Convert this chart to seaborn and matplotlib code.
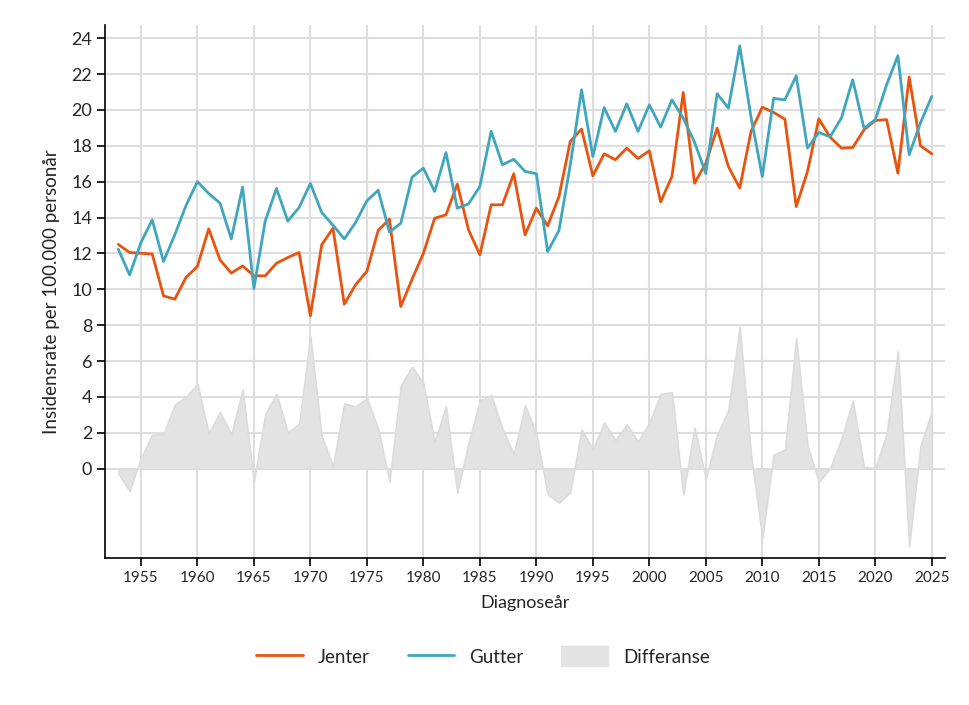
import numpy as np
import pandas as pd
import matplotlib
matplotlib.use("Agg")
import matplotlib.pyplot as plt
import seaborn as sns
from matplotlib.patches import Patch
from matplotlib.lines import Line2D

years = list(range(1953, 2026))

jenter = [12.5, 12.05, 12.01, 11.97, 9.63, 9.45, 10.67, 11.27, 13.37, 11.64,
          10.9, 11.3, 10.75, 10.75, 11.45, 11.77, 12.05, 8.52, 12.48, 13.4,
          9.17, 10.25, 11.0, 13.28, 13.91, 9.04, 10.56, 12.0, 13.96, 14.15,
          15.86, 13.31, 11.92, 14.71, 14.71, 16.44, 13.03, 14.52, 13.54, 15.17,
          18.24, 18.93, 16.32, 17.55, 17.22, 17.87, 17.29, 17.72, 14.87, 16.29,
          20.97, 15.91, 17.03, 18.98, 16.84, 15.64, 18.8, 20.15, 19.86, 19.48,
          14.61, 16.57, 19.5, 18.48, 17.87, 17.9, 18.89, 19.41, 19.46, 16.47,
          21.83, 18.0, 17.55]

gutter = [12.23, 10.8, 12.6, 13.87, 11.55, 13.04, 14.68, 16.0, 15.34, 14.8,
          12.81, 15.7, 10.04, 13.8, 15.62, 13.8, 14.56, 15.9, 14.28, 13.57,
          12.81, 13.72, 14.93, 15.52, 13.19, 13.68, 16.25, 16.75, 15.45, 17.62,
          14.52, 14.76, 15.73, 18.81, 16.94, 17.25, 16.57, 16.44, 12.1, 13.28,
          16.92, 21.12, 17.4, 20.13, 18.8, 20.34, 18.8, 20.28, 19.04, 20.56,
          19.54, 18.2, 16.45, 20.9, 20.1, 23.57, 19.6, 16.29, 20.64, 20.56,
          21.9, 17.87, 18.74, 18.5, 19.55, 21.68, 18.98, 19.45, 21.4, 23.02,
          17.5, 19.28, 20.75]

y_ticks = list(range(0, 25, 2))
x_ticks = list(range(1955, 2026, 5))

orange = "#e8540f"
teal = "#40a6bd"
fill_grey = "#e3e3e3"
grid_grey = "#dedede"

df = pd.DataFrame({"År": years, "Jenter": jenter, "Gutter": gutter})
df["Differanse"] = df["Gutter"] - df["Jenter"]

sns.set_theme(style="white")
plt.rcParams["font.family"] = ["Lato", "DejaVu Sans"]

fig = plt.figure(figsize=(9.7, 7.05), dpi=100)
ax = fig.add_axes([0.108, 0.208, 0.866, 0.757])

ax.fill_between(df["År"], 0, df["Differanse"], color=fill_grey,
                edgecolor="#dcdcdc", linewidth=1.2, zorder=2)
sns.lineplot(data=df, x="År", y="Jenter", color=orange, linewidth=2.0, ax=ax, zorder=3)
sns.lineplot(data=df, x="År", y="Gutter", color=teal, linewidth=2.0, ax=ax, zorder=3)

ax.set_xlim(1951.8, 2026.15)
ax.set_ylim(-5, 24.75)
ax.set_yticks(y_ticks)
ax.set_xticks(x_ticks)
ax.set_yticklabels([str(v) for v in y_ticks], fontsize=13)
ax.set_xticklabels([str(v) for v in x_ticks], fontsize=11)

ax.grid(True, color=grid_grey, linewidth=1.5, zorder=0)
ax.set_axisbelow(True)
for s in ["top", "right"]:
    ax.spines[s].set_visible(False)
for s in ["left", "bottom"]:
    ax.spines[s].set_color("black")
    ax.spines[s].set_linewidth(1.2)
ax.tick_params(axis="both", which="major", direction="out", length=6, width=1.2,
               color="black", left=True, bottom=True, pad=3)

ax.set_xlabel("Diagnoseår", fontsize=13, labelpad=7)
ax.set_ylabel("Insidensrate per 100.000 personår", fontsize=13.5, labelpad=8)

handles = [Line2D([0], [0], color=orange, linewidth=2.0),
           Line2D([0], [0], color=teal, linewidth=2.0),
           Patch(facecolor=fill_grey, edgecolor=fill_grey)]
fig.legend(handles, ["Jenter", "Gutter", "Differanse"], loc="center",
           bbox_to_anchor=(0.498, 0.069), ncol=3, frameon=False, fontsize=13.5,
           handlelength=2.5, handleheight=1.25, columnspacing=2.0, handletextpad=0.8)

fig.savefig("out.png", dpi=100)
